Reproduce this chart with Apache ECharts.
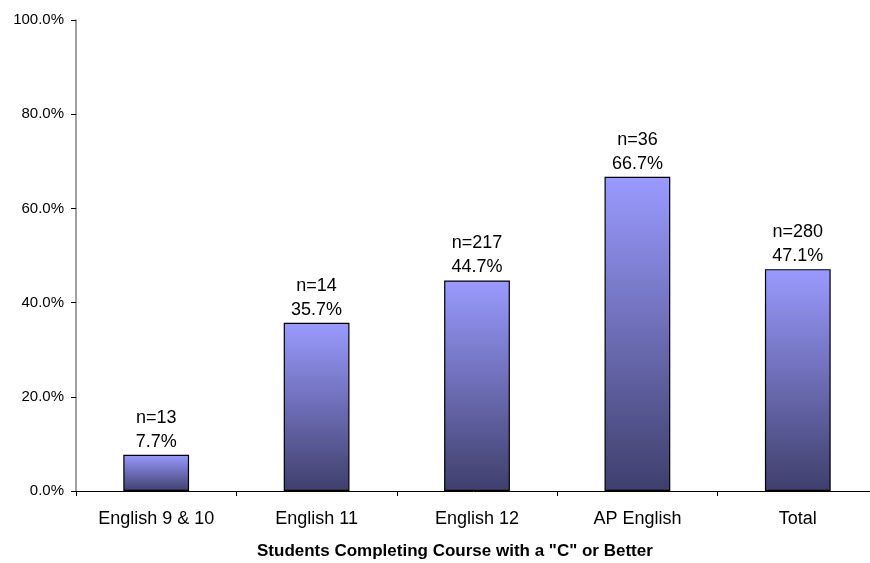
<!DOCTYPE html>
<html>
<head>
<meta charset="utf-8">
<title>Students Completing Course with a "C" or Better</title>
<script src="https://cdn.jsdelivr.net/npm/echarts@6/dist/echarts.min.js"></script>
<style>
  html, body { margin: 0; padding: 0; background: #ffffff; overflow: hidden; }
  #chart { width: 870px; height: 563px; }
</style>
</head>
<body>
<div id="chart"></div>
<script>
// Course categories and the share of students finishing with a "C" or better
const categories = ['English 9 & 10', 'English 11', 'English 12', 'AP English', 'Total'];
const percentC = [7.7, 35.7, 44.7, 66.7, 47.1];
const studentCounts = [13, 14, 217, 36, 280];
const yTicks = [0, 20, 40, 60, 80, 100];
const axisTitle = 'Students Completing Course with a "C" or Better';

const FONT = '"Liberation Sans", Arial, sans-serif';

const chart = echarts.init(document.getElementById('chart'), null, { renderer: 'canvas' });

const barFill = new echarts.graphic.LinearGradient(0, 0, 0, 1, [
  { offset: 0, color: '#9a9aff' },
  { offset: 1, color: '#3f3f6c' }
]);

chart.setOption({
  animation: false,
  backgroundColor: '#ffffff',
  // plot area runs slightly past the right edge of the canvas
  grid: {
    left: 76, width: 802, top: 20, bottom: 72,
    containLabel: false,
    outerBoundsMode: 'none'
  },
  xAxis: {
    type: 'category',
    data: categories,
    axisLine: { show: true, lineStyle: { color: '#000000', width: 1 } },
    axisTick: { show: true, alignWithLabel: false, length: 5, lineStyle: { color: '#000000' } },
    axisLabel: { color: '#000000', fontFamily: FONT, fontSize: 18, margin: 19 }
  },
  yAxis: {
    type: 'value',
    min: yTicks[0],
    max: yTicks[yTicks.length - 1],
    interval: yTicks[1] - yTicks[0],
    splitLine: { show: false },
    axisLine: { show: true, lineStyle: { color: '#808080', width: 1.5 } },
    axisTick: { show: true, length: 5, lineStyle: { color: '#000000' } },
    axisLabel: {
      color: '#000000', fontFamily: FONT, fontSize: 15, margin: 12,
      formatter: v => v.toFixed(1) + '%'
    }
  },
  series: [{
    type: 'bar',
    data: percentC,
    barCategoryGap: '59%',
    itemStyle: { color: barFill, borderColor: '#000000', borderWidth: 1.2 },
    label: {
      show: true,
      position: 'top',
      distance: 1,
      color: '#000000',
      fontFamily: FONT,
      fontSize: 18,
      lineHeight: 24,
      formatter: p => 'n=' + studentCounts[p.dataIndex] + '\n' + p.value.toFixed(1) + '%'
    }
  }],
  graphic: [{
    type: 'text',
    left: 257,
    top: 543,
    style: {
      text: axisTitle,
      fill: '#000000',
      font: 'bold 17px ' + FONT
    }
  }]
});
</script>
</body>
</html>
